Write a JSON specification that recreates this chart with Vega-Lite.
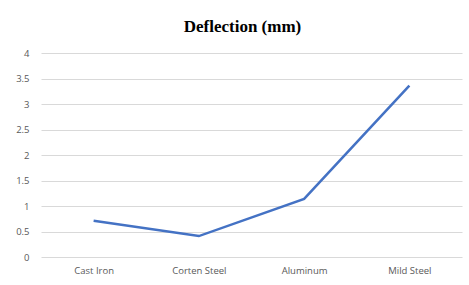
{
  "$schema": "https://vega.github.io/schema/vega-lite/v6.json",
  "autosize": "none",
  "width": 421,
  "height": 204,
  "padding": {"left": 41, "top": 53, "right": 7, "bottom": 28},
  "background": "white",
  "title": {
    "text": "Deflection (mm)",
    "font": "Liberation Serif",
    "fontSize": 17,
    "fontWeight": "bold",
    "color": "#000000",
    "anchor": "middle",
    "offset": 12,
    "dx": -9
  },
  "data": {
    "values": [
      {"material": "Cast Iron", "deflection": 0.71},
      {"material": "Corten Steel", "deflection": 0.41},
      {"material": "Aluminum", "deflection": 1.14},
      {"material": "Mild Steel", "deflection": 3.36}
    ]
  },
  "mark": {"type": "line", "color": "#4472C4", "strokeWidth": 2.5},
  "encoding": {
    "x": {
      "field": "material",
      "type": "nominal",
      "sort": null,
      "title": null,
      "scale": {"type": "point", "padding": 0.5},
      "axis": {
        "labelAngle": 0,
        "domain": false,
        "ticks": false,
        "grid": false,
        "labelFont": "Open Sans",
        "labelFontSize": 9.5,
        "labelColor": "#595959",
        "labelPadding": 8
      }
    },
    "y": {
      "field": "deflection",
      "type": "quantitative",
      "title": null,
      "scale": {"domain": [0, 4], "nice": false},
      "axis": {
        "values": [0, 0.5, 1, 1.5, 2, 2.5, 3, 3.5, 4],
        "format": "~g",
        "domain": false,
        "ticks": false,
        "gridColor": "#d9d9d9",
        "gridWidth": 1,
        "labelFont": "Open Sans",
        "labelFontSize": 9.5,
        "labelColor": "#595959",
        "labelPadding": 12
      }
    }
  },
  "config": {"view": {"stroke": null}}
}
